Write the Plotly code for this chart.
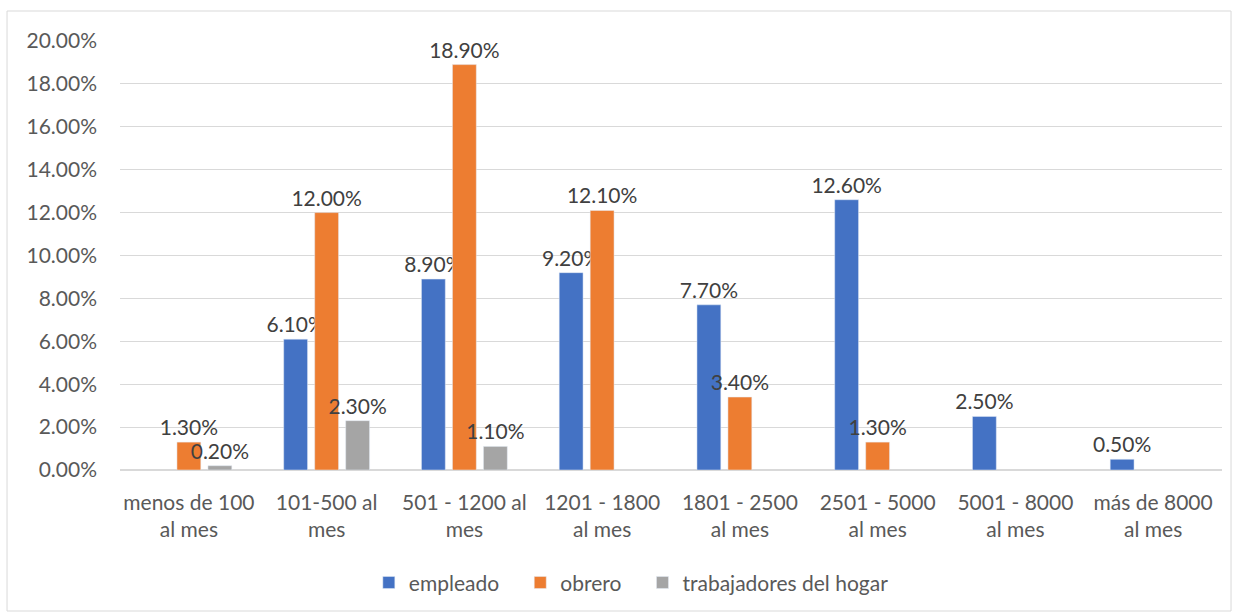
import plotly.graph_objects as go

categories = ["menos de 100<br>al mes", "101-500 al<br>mes", "501 - 1200 al<br>mes", "1201 - 1800<br>al mes",
              "1801 - 2500<br>al mes", "2501 - 5000<br>al mes", "5001 - 8000<br>al mes", "más de 8000<br>al mes"]
empleado = [None, 6.1, 8.9, 9.2, 7.7, 12.6, 2.5, 0.5]
obrero = [1.3, 12.0, 18.9, 12.1, 3.4, 1.3, None, None]
hogar = [0.2, 2.3, 1.1, None, None, None, None, None]

series = [("empleado", empleado, "#4472C4"), ("obrero", obrero, "#ED7D31"),
          ("trabajadores del hogar", hogar, "#A5A5A5")]

FONT = "Lato, Open Sans, sans-serif"
FS = 21
PAD = "\u00a0\u00a0\u00a0"
fig = go.Figure()
for i, (name, vals, col) in enumerate(series):
    fig.add_trace(go.Bar(
        x=categories, y=vals, name=name + (PAD if i < len(series) - 1 else ""), marker_color=col,
        text=[f"{v:.2f}%" if v is not None else "" for v in vals],
        textposition="outside", cliponaxis=False, constraintext="none",
        textfont=dict(size=FS, color="#404040", family=FONT),
    ))

fig.update_layout(
    width=1238, height=616,
    margin=dict(l=120, r=16, t=41, b=146),
    paper_bgcolor="white", plot_bgcolor="white",
    barmode="group", bargap=0.325, bargroupgap=0.23,
    font=dict(family=FONT, size=FS, color="#595959"),
    yaxis=dict(range=[0, 20], dtick=2, tickformat=".2f", ticksuffix="%",
               showgrid=True, gridcolor="#D9D9D9", gridwidth=1, zeroline=True,
               zerolinecolor="#D9D9D9", zerolinewidth=1.5, ticks="", ticklabelstandoff=22,
               tickfont=dict(size=FS, color="#595959")),
    xaxis=dict(showline=False, ticks="", tickfont=dict(size=FS, color="#595959"), ticklabelstandoff=18),
    legend=dict(orientation="h", x=0.464, xanchor="center", y=-0.263, yanchor="middle",
                font=dict(size=FS, color="#595959"), itemwidth=30, traceorder="normal"),
    shapes=[dict(type="rect", xref="paper", yref="paper", x0=-0.1025, x1=1.0082, y0=-0.3287, y1=1.0699,
                 line=dict(color="#D9D9D9", width=1), fillcolor="rgba(0,0,0,0)", layer="below")],
    showlegend=True,
)

fig.write_html("out.html", config={"displayModeBar": False},
               post_script="document.body.style.margin='0';document.body.style.overflow='hidden';")
